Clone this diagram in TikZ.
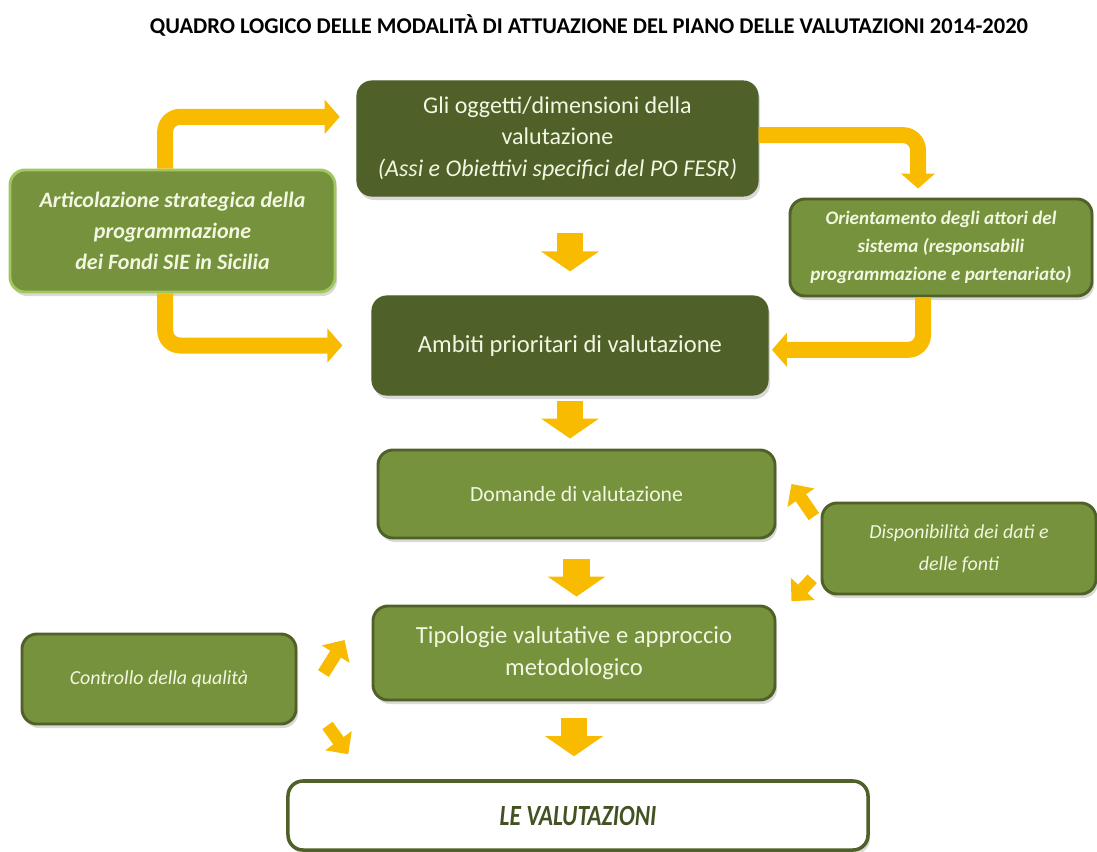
\documentclass[tikz,border=0pt]{standalone}
\usepackage{fontspec}
\setmainfont{Carlito}
\usetikzlibrary{arrows.meta,shadows}

\definecolor{olivedark}{RGB}{79,96,40}
\definecolor{olivemid}{RGB}{118,146,60}
\definecolor{olivelight}{RGB}{160,200,95}
\definecolor{cream}{RGB}{242,247,226}
\definecolor{flowyellow}{RGB}{248,187,0}

\begin{document}
\begin{tikzpicture}[x=0.03cm,y=-0.03cm,
  box/.style={rounded corners=0.45cm,align=center,text=cream,
    drop shadow={shadow xshift=0.06cm,shadow yshift=-0.12cm,opacity=0.3}},
  darkbox/.style={box,fill=olivedark,draw=olivedark,line width=1pt,font=\fontsize{20.5}{27}\selectfont},
  midbox/.style={box,fill=olivemid,draw=olivedark,line width=2.5pt},
  flow/.style={draw=flowyellow,line width=0.48cm,rounded corners=0.45cm,-{Triangle[width=1cm,length=0.45cm]}},
  blockdown/.style={draw=flowyellow,line width=0.8cm,-{Triangle[width=1.71cm,length=0.6cm]}},
  diag/.style={draw=flowyellow,line width=0.38cm,-{Triangle[width=0.95cm,length=0.5cm]}}]
\useasboundingbox (0,0) rectangle (1097,852);

% Title
\node[font=\fontsize{19.2}{22}\selectfont\bfseries] (title) at (589,25)
  {QUADRO LOGICO DELLE MODALITÀ DI ATTUAZIONE DEL PIANO DELLE VALUTAZIONI 2014-2020};

% Main column
\node[darkbox,minimum width=12.03cm,minimum height=3.45cm] (ogg) at (557.5,138.5)
  {Gli oggetti/dimensioni della\\valutazione\\\textit{(Assi e Obiettivi specifici del PO FESR)}};
\node[darkbox,minimum width=11.88cm,minimum height=2.97cm,font=\fontsize{21}{27}\selectfont] (amb) at (570,345.5)
  {Ambiti prioritari di valutazione};
\node[midbox,minimum width=11.91cm,minimum height=2.64cm,font=\fontsize{18.5}{27}\selectfont] (dom) at (576.5,494)
  {Domande di valutazione};
\node[midbox,minimum width=12.06cm,minimum height=2.82cm,font=\fontsize{21}{27}\selectfont] (tip) at (574,653)
  {Tipologie valutative e approccio\\metodologico};
\node[box,fill=white,draw=olivedark,line width=3pt,text=olivedark!85!black,
  minimum width=17.4cm,minimum height=2.07cm,font=\fontsize{25}{28}\selectfont\bfseries\itshape] (val) at (578,815.5)
  {\scalebox{0.8}[1]{LE VALUTAZIONI}};

% Side boxes
\node[midbox,draw=olivelight,minimum width=9.75cm,minimum height=3.66cm,
  font=\fontsize{18.8}{26.5}\selectfont\bfseries\itshape] (art) at (172.5,231)
  {Articolazione strategica della\\programmazione\\dei Fondi SIE in Sicilia};
\node[midbox,minimum width=9.06cm,minimum height=2.91cm,
  font=\fontsize{16.3}{24}\selectfont\bfseries\itshape] (ori) at (941,247.5)
  {Orientamento degli attori del\\sistema (responsabili\\programmazione e partenariato)};
\node[midbox,minimum width=8.22cm,minimum height=2.73cm,
  font=\fontsize{17}{27}\selectfont\itshape] (dis) at (959,548.5)
  {Disponibilità dei dati e\\delle fonti};
\node[midbox,minimum width=8.22cm,minimum height=2.7cm,
  font=\fontsize{17}{27}\selectfont\itshape] (con) at (159,679)
  {Controllo della qualità};

% Bent arrows
\draw[flow,shorten >=0.5cm] ([xshift=-0.22cm]art.north) |- ([yshift=0.65cm]ogg.west);
\draw[flow,shorten >=0.87cm] ([xshift=-0.22cm]art.south) |- (amb.west);
\draw[flow,shorten >=0.27cm] ([yshift=0.1cm]ogg.east) -| ([xshift=-0.69cm]ori.north);
\draw[flow,shorten >=0.1cm] ([xshift=-0.54cm]ori.south) |- ([yshift=-0.13cm]amb.east);

% Block arrows down
\draw[blockdown,shorten <=1.08cm,shorten >=0.72cm] (ogg.south -| amb.north) -- (amb.north);
\draw[blockdown,shorten <=0.15cm,shorten >=0.3cm] (amb.south) -- (amb.south |- dom.north);
\draw[blockdown,shorten <=0.6cm,shorten >=0.24cm] (dom.south) -- (dom.south |- tip.north);
\draw[blockdown,shorten <=0.51cm,shorten >=0.69cm] (tip.south) -- (tip.south |- val.north);

% Small arrows
\draw[diag] ([xshift=-0.2cm,yshift=-0.45cm]dis.north west) -- ([xshift=0.45cm,yshift=0.3cm]dom.east);
\draw[diag] ([xshift=-0.25cm,yshift=0.5cm]dis.south west) -- ([xshift=0.45cm,yshift=0.1cm]tip.north east);
\draw[diag] ([xshift=0.78cm,yshift=-1.23cm]con.north east) -- ([xshift=-0.81cm,yshift=0.39cm]tip.west);
\draw[diag] ([xshift=0.9cm]con.south east) -- ([xshift=1.86cm,yshift=0.75cm]val.north west);

\end{tikzpicture}
\end{document}
